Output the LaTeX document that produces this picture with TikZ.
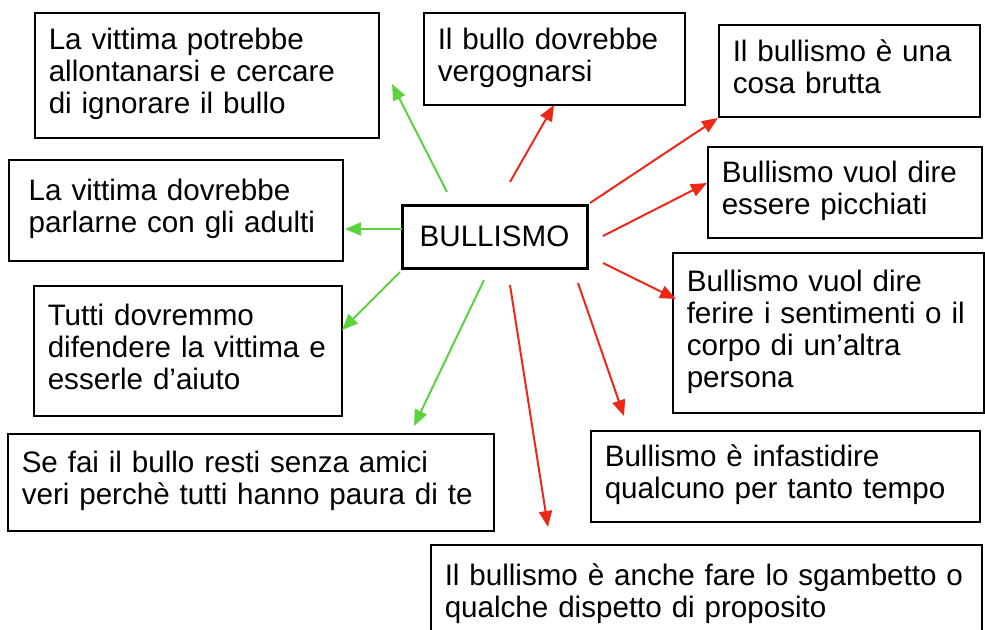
\documentclass[tikz,border=0pt]{standalone}
\usepackage{fontspec}
\setmainfont{Liberation Sans}
\usetikzlibrary{arrows.meta, positioning}
\definecolor{okgreen}{RGB}{92,210,60}
\definecolor{badred}{RGB}{236,40,24}
\newcommand{\idealines}[1]{\begin{tabular}{@{}l@{}}#1\end{tabular}}
\tikzset{
    idea/.style={draw, line width=0.75pt, anchor=north west, align=left,
        inner xsep=7pt, inner ysep=0pt, font=\fontsize{14.8}{16}\selectfont},
    good/.style={color=okgreen, line width=1pt, -{Triangle[length=8pt,width=6.5pt]}},
    bad/.style={color=badred, line width=1pt, -{Triangle[length=8pt,width=6.5pt]}}
}

\begin{document}
\begin{tikzpicture}[x=0.5pt, y=-0.5pt]
        \useasboundingbox (0,0) rectangle (985,629);
        \node[draw, line width=1.5pt, font=\fontsize{14.8}{16}\selectfont,
            minimum width=92.5pt, minimum height=31.5pt] (bul) at (494.5,236.5) {BULLISMO};
        % left side
        \node[idea, text width=158pt, minimum height=62.5pt] (allont) at (34,12)
            {\idealines{La vittima potrebbe\\allontanarsi e cercare\\di ignorare il bullo}};
        \node[idea, text width=147pt, inner xsep=10pt, minimum height=50.5pt] (adulti) at (8,159)
            {\idealines{La vittima dovrebbe\\parlarne con gli adulti}};
        \node[idea, text width=140pt, minimum height=65pt] (difend) at (33,285)
            {\idealines{Tutti dovremmo\\difendere la vittima e\\esserle d’aiuto}};
        \node[idea, text width=229pt, minimum height=48.5pt] (amici) at (7,433)
            {\idealines{Se fai il bullo resti senza amici\\veri perchè tutti hanno paura di te}};
        % right side
        \node[idea, text width=116.5pt, minimum height=46pt] (vergo) at (423,12)
            {\idealines{Il bullo dovrebbe\\vergognarsi}};
        \node[idea, text width=116.5pt, minimum height=46pt] (brutta) at (718,24)
            {\idealines{Il bullismo è una\\cosa brutta}};
        \node[idea, text width=123pt, minimum height=45.5pt] (picch) at (707,146)
            {\idealines{Bullismo vuol dire\\essere picchiati}};
        \node[idea, text width=141.5pt, minimum height=80pt] (ferire) at (672,252)
            {\idealines{Bullismo vuol dire\\ferire i sentimenti o il\\corpo di un’altra\\persona}};
        \node[idea, text width=180.5pt, minimum height=45.5pt] (infast) at (590,430)
            {\idealines{Bullismo è infastidire\\qualcuno per tanto tempo}};
        \node[idea, text width=261.5pt, minimum height=50pt] (sgamb) at (430,544)
            {\idealines{Il bullismo è anche fare lo sgambetto o\\qualche dispetto di proposito}};
        % arrow ends
        \coordinate (s1) at (447,192);  \coordinate (t1) at (392,84);
        \coordinate (s2) at (402,229);  \coordinate (t2) at (345,229);
        \coordinate (s3) at (400,272);  \coordinate (t3) at (342,330);
        \coordinate (s4) at (484,280);  \coordinate (t4) at (414,426);
        \coordinate (s5) at (510,182);  \coordinate (t5) at (554,105);
        \coordinate (s6) at (590,203);  \coordinate (t6) at (718,118);
        \coordinate (s7) at (603,236);  \coordinate (t7) at (707,183);
        \coordinate (s8) at (603,263);  \coordinate (t8) at (676,299);
        \coordinate (s9) at (578,283);  \coordinate (t9) at (624,416);
        \coordinate (s10) at (510,285); \coordinate (t10) at (548,527);
        \draw[good] (s1) -- (t1);
        \draw[good] (s2) -- (t2);
        \draw[good] (s3) -- (t3);
        \draw[good] (s4) -- (t4);
        \draw[bad] (s5) -- (t5);
        \draw[bad] (s6) -- (t6);
        \draw[bad] (s7) -- (t7);
        \draw[bad] (s8) -- (t8);
        \draw[bad] (s9) -- (t9);
        \draw[bad] (s10) -- (t10);
\end{tikzpicture}
\end{document}
